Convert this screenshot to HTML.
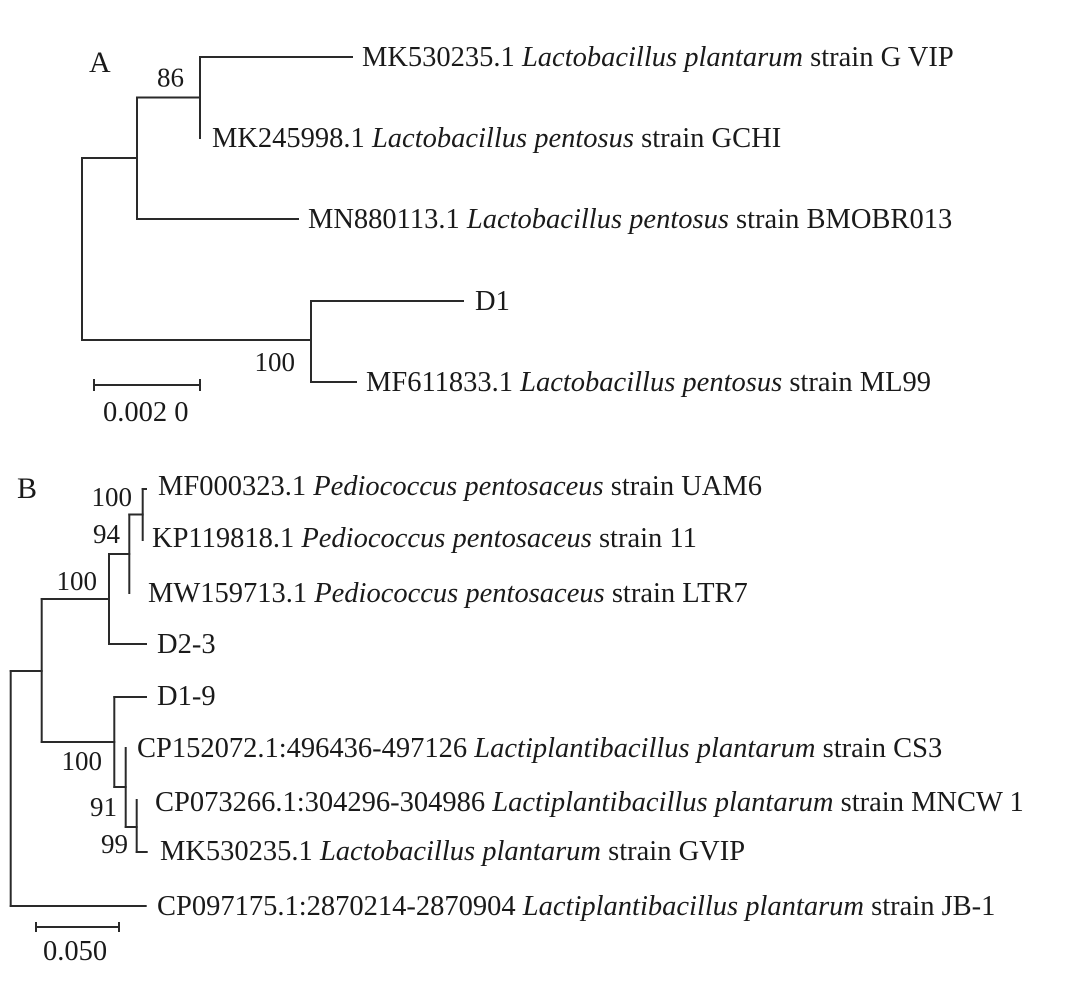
<!DOCTYPE html>
<html>
<head>
<meta charset="utf-8">
<style>
  html, body { margin: 0; padding: 0; background: #fff; }
  svg { display: block; }
  text { font-family: "Liberation Serif", "Times New Roman", serif; fill: #1a1a1a; }
  .lbl { font-size: 28.5px; }
  .bs { font-size: 27px; }
  .it { font-style: italic; }
</style>
</head>
<body>
<svg width="1072" height="984" viewBox="0 0 1072 984" xmlns="http://www.w3.org/2000/svg">
  <rect width="1072" height="984" fill="#fff"/>
  <g stroke="#2a2a2a" stroke-width="2" fill="none" stroke-linecap="square">
    <!-- Tree A -->
    <path d="M200 57 H352"/>
    <path d="M200 57 V138"/>
    <path d="M137 97.5 H200"/>
    <path d="M137 97.5 V219"/>
    <path d="M137 219 H298"/>
    <path d="M82 158 H137"/>
    <path d="M82 158 V340"/>
    <path d="M82 340 H311"/>
    <path d="M311 301 V382"/>
    <path d="M311 301 H463"/>
    <path d="M311 382 H356"/>
    <!-- Scale A -->
    <path d="M94 385 H200"/>
    <path d="M94 380 V390"/>
    <path d="M200 380 V390"/>

    <!-- Tree B -->
    <path d="M142.7 489 H146"/>
    <path d="M142.7 489 V540"/>
    <path d="M129.3 514.5 H142.7"/>
    <path d="M129.3 514.5 V593"/>
    <path d="M109 554 H129.3"/>
    <path d="M109 554 V644"/>
    <path d="M109 644 H146"/>
    <path d="M41.7 599 H109"/>
    <path d="M41.7 599 V742"/>
    <path d="M41.7 742 H114.3"/>
    <path d="M114.3 697 V787"/>
    <path d="M114.3 697 H146"/>
    <path d="M114.3 787 H125.7"/>
    <path d="M125.7 748 V827"/>
    <path d="M125.7 827 H136.7"/>
    <path d="M136.7 800 V852"/>
    <path d="M136.7 852 H146.7"/>
    <path d="M10.7 671 H41.7"/>
    <path d="M10.7 671 V906"/>
    <path d="M10.7 906 H145.7"/>
    <!-- Scale B -->
    <path d="M36 927 H119"/>
    <path d="M36 923 V931"/>
    <path d="M119 923 V931"/>
  </g>

  <!-- Tree A text -->
  <text x="89" y="72" style="font-size:30px">A</text>
  <text class="bs" x="157" y="86.5">86</text>
  <text class="bs" x="295" y="371" text-anchor="end">100</text>
  <text class="lbl" x="103" y="421">0.002 0</text>

  <text class="lbl" x="362" y="66">MK530235.1 <tspan class="it">Lactobacillus plantarum</tspan> strain G VIP</text>
  <text class="lbl" x="212" y="147">MK245998.1 <tspan class="it">Lactobacillus pentosus</tspan> strain GCHI</text>
  <text class="lbl" x="308" y="228">MN880113.1 <tspan class="it">Lactobacillus pentosus</tspan> strain BMOBR013</text>
  <text class="lbl" x="475" y="310">D1</text>
  <text class="lbl" x="366" y="391">MF611833.1 <tspan class="it">Lactobacillus pentosus</tspan> strain ML99</text>

  <!-- Tree B text -->
  <text x="17" y="498" style="font-size:30px">B</text>
  <text class="bs" x="132" y="506" text-anchor="end">100</text>
  <text class="bs" x="120" y="543" text-anchor="end">94</text>
  <text class="bs" x="97" y="590" text-anchor="end">100</text>
  <text class="bs" x="102" y="770" text-anchor="end">100</text>
  <text class="bs" x="117" y="816" text-anchor="end">91</text>
  <text class="bs" x="128" y="853" text-anchor="end">99</text>
  <text class="lbl" x="43" y="960">0.050</text>

  <text class="lbl" x="158" y="495">MF000323.1 <tspan class="it">Pediococcus pentosaceus</tspan> strain UAM6</text>
  <text class="lbl" x="152" y="547">KP119818.1 <tspan class="it">Pediococcus pentosaceus</tspan> strain 11</text>
  <text class="lbl" x="148" y="602">MW159713.1 <tspan class="it">Pediococcus pentosaceus</tspan> strain LTR7</text>
  <text class="lbl" x="157" y="653">D2-3</text>
  <text class="lbl" x="157" y="705">D1-9</text>
  <text class="lbl" x="137" y="757">CP152072.1:496436-497126 <tspan class="it">Lactiplantibacillus plantarum</tspan> strain CS3</text>
  <text class="lbl" x="155" y="811">CP073266.1:304296-304986 <tspan class="it">Lactiplantibacillus plantarum</tspan> strain MNCW 1</text>
  <text class="lbl" x="160" y="860">MK530235.1 <tspan class="it">Lactobacillus plantarum</tspan> strain GVIP</text>
  <text class="lbl" x="157" y="915">CP097175.1:2870214-2870904 <tspan class="it">Lactiplantibacillus plantarum</tspan> strain JB-1</text>
</svg>
</body>
</html>
